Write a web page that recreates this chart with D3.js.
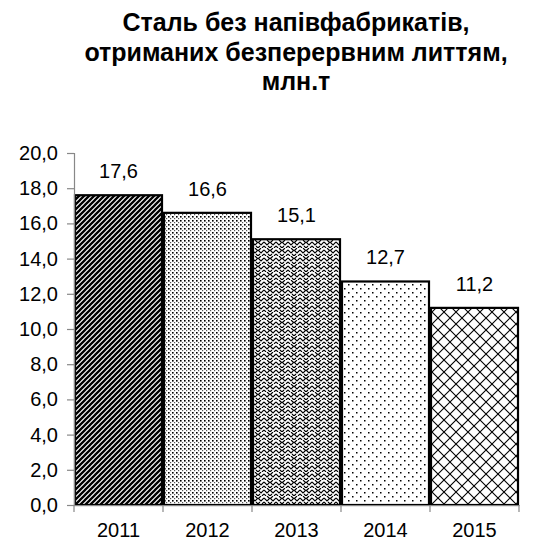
<!DOCTYPE html>
<html><head><meta charset="utf-8">
<script src="https://cdn.jsdelivr.net/npm/d3@7"></script>
<style>body{margin:0;background:#fff}svg{display:block}text{font-family:"Liberation Sans",Arial,sans-serif}</style>
</head><body><svg id="c" width="541" height="543"></svg>
<script>
const years = ["2011","2012","2013","2014","2015"];
const values = [17.6,16.6,15.1,12.7,11.2];
const yTicks = [0,2,4,6,8,10,12,14,16,18,20];
const titleLines = ["Сталь без напівфабрикатів,","отриманих безперервним литтям,","млн.т"];

const svg = d3.select("#c");
const m = {l:74, r:519, t:153, b:505};
const x = d3.scaleBand().domain(years).range([m.l, m.r]).padding(0);
const y = d3.scaleLinear().domain([0,20]).range([m.b, m.t]);
const fmt = v => d3.format(".1f")(v).replace(".", ",");

const defs = svg.append("defs");
// pattern 1: wide upward diagonal hatch
let p = defs.append("pattern").attr("id","p0").attr("patternUnits","userSpaceOnUse").attr("width",5).attr("height",5);
p.append("rect").attr("width",5).attr("height",5).attr("fill","#fff");
p.append("path").attr("d","M-1,6 L6,-1 M-1,1 L1,-1 M4,6 L6,4").attr("stroke","#000").attr("stroke-width",2.3);
// pattern 2: small dense dots
p = defs.append("pattern").attr("id","p1").attr("patternUnits","userSpaceOnUse").attr("width",4).attr("height",4);
p.append("rect").attr("width",4).attr("height",4).attr("fill","#fff");
p.append("rect").attr("x",0).attr("y",0).attr("width",1.6).attr("height",1.6).attr("fill","#000");
p.append("rect").attr("x",2).attr("y",2).attr("width",1.2).attr("height",1.2).attr("fill","#555");
// pattern 3: zigzag weave
p = defs.append("pattern").attr("id","p2").attr("patternUnits","userSpaceOnUse").attr("width",12).attr("height",8);
p.append("rect").attr("width",12).attr("height",8).attr("fill","#fff");
p.append("path").attr("d","M0,2 L3,5 L6,2 L9,5 L12,2 M0,6 L2,8 M4,6 L6,8 L8,6 M10,8 L12,6 M3,0 L5,2 M9,0 L7,2").attr("stroke","#000").attr("stroke-width",1.1).attr("fill","none");
// pattern 4: sparse dots
p = defs.append("pattern").attr("id","p3").attr("patternUnits","userSpaceOnUse").attr("width",8).attr("height",8);
p.append("rect").attr("width",8).attr("height",8).attr("fill","#fff");
p.append("rect").attr("x",0).attr("y",0).attr("width",1.5).attr("height",1.5).attr("fill","#000");
p.append("rect").attr("x",4).attr("y",4).attr("width",1.5).attr("height",1.5).attr("fill","#000");
// pattern 5: diamond lattice
p = defs.append("pattern").attr("id","p4").attr("patternUnits","userSpaceOnUse").attr("width",12).attr("height",12);
p.append("rect").attr("width",12).attr("height",12).attr("fill","#fff");
p.append("path").attr("d","M0,0 L12,12 M12,0 L0,12").attr("stroke","#000").attr("stroke-width",1.1);

// title
svg.append("g").selectAll("text").data(titleLines).join("text")
  .attr("x",296).attr("y",(d,i)=>31+i*29.5).attr("text-anchor","middle")
  .attr("font-size",25).attr("font-weight","bold").attr("fill","#000").text(d=>d);

// bars
svg.append("g").selectAll("rect").data(values).join("rect")
  .attr("x",(d,i)=>x(years[i])+1).attr("width",x.bandwidth()-2)
  .attr("y",d=>y(d)).attr("height",d=>y(0)-y(d))
  .attr("fill",(d,i)=>`url(#p${i})`).attr("stroke","#000").attr("stroke-width",2.2);

// value labels
svg.append("g").selectAll("text").data(values).join("text")
  .attr("x",(d,i)=>x(years[i])+x.bandwidth()/2).attr("y",d=>y(d)-17)
  .attr("text-anchor","middle").attr("font-size",20).attr("fill","#000").text(fmt);

// y axis
const ya = svg.append("g").attr("transform",`translate(${m.l},0)`)
  .call(d3.axisLeft(y).tickValues(yTicks).tickFormat(fmt).tickSize(7).tickPadding(9));
ya.select(".domain").attr("stroke","#888").attr("stroke-width",1.2);
ya.selectAll(".tick line").attr("stroke","#888").attr("stroke-width",1.2);
ya.selectAll("text").attr("font-size",20).attr("fill","#000").attr("font-family","Liberation Sans, Arial, sans-serif");

// x axis
const xa = svg.append("g").attr("transform",`translate(0,${m.b})`)
  .call(d3.axisBottom(x).tickSize(0).tickPadding(18));
xa.select(".domain").attr("stroke","#888").attr("stroke-width",1.2);
xa.selectAll("text").attr("font-size",20).attr("fill","#000").attr("font-family","Liberation Sans, Arial, sans-serif");
const bounds = years.map(d=>x(d)).concat([m.r]);
xa.selectAll("line.b").data(bounds).join("line").attr("class","b")
  .attr("x1",d=>d).attr("x2",d=>d).attr("y1",0).attr("y2",7).attr("stroke","#888").attr("stroke-width",1.2);
</script></body></html>
